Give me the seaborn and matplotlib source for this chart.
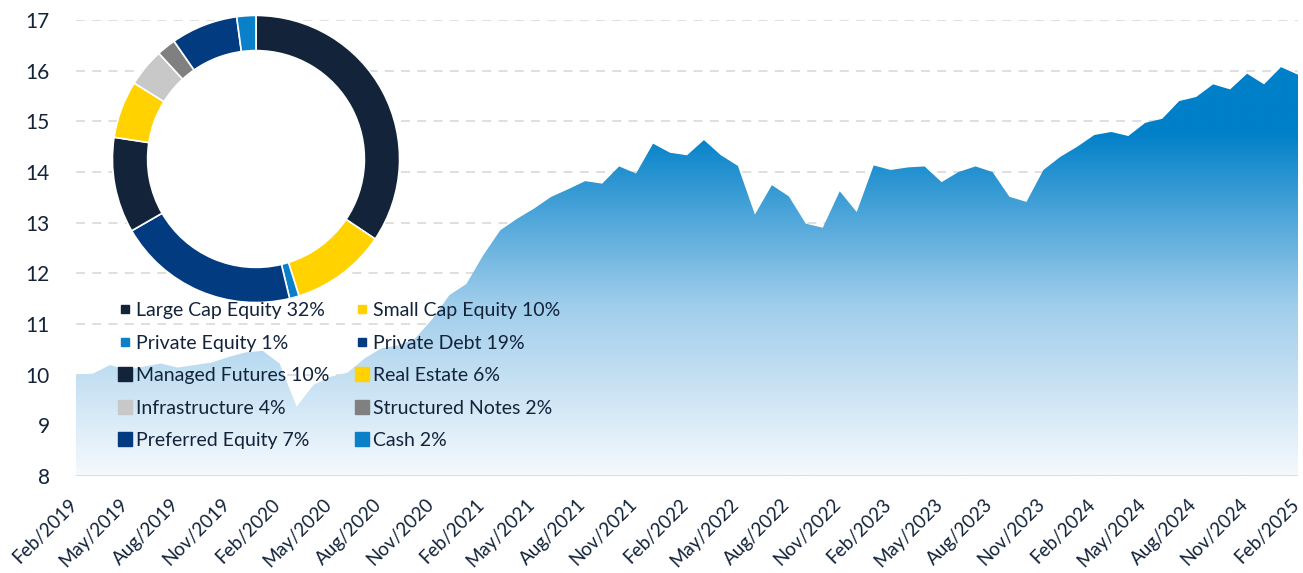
import numpy as np
import pandas as pd
import matplotlib
matplotlib.use("Agg")
import matplotlib.pyplot as plt
import matplotlib.transforms as mtransforms
from matplotlib.colors import LinearSegmentedColormap
from matplotlib.lines import Line2D
from matplotlib.patches import Circle
import seaborn as sns

# monthly values, Feb/2019 .. Feb/2025
months = pd.date_range("2019-02-01", "2025-02-01", freq="MS").strftime("%b/%Y").tolist()
values = [10.00, 10.02, 10.19, 10.10, 10.16, 10.22, 10.14, 10.19, 10.24, 10.35,
          10.44, 10.47, 10.22, 9.37, 9.80, 9.96, 10.04, 10.32, 10.52, 10.58,
          10.72, 11.10, 11.57, 11.79, 12.36, 12.85, 13.08, 13.28, 13.51, 13.66,
          13.82, 13.77, 14.11, 13.97, 14.56, 14.38, 14.33, 14.63, 14.33, 14.12,
          13.16, 13.74, 13.52, 12.98, 12.90, 13.62, 13.21, 14.13, 14.04, 14.09,
          14.11, 13.80, 14.00, 14.11, 14.00, 13.51, 13.41, 14.04, 14.30, 14.50,
          14.73, 14.79, 14.71, 14.97, 15.05, 15.40, 15.48, 15.73, 15.63, 15.94,
          15.73, 16.07, 15.92]

# allocation donut
alloc_labels = ["Large Cap Equity", "Small Cap Equity", "Private Equity", "Private Debt",
                "Managed Futures", "Real Estate", "Infrastructure", "Structured Notes",
                "Preferred Equity", "Cash"]
alloc_pcts = [32, 10, 1, 19, 10, 6, 4, 2, 7, 2]
alloc_colors = ["#12233a", "#ffd200", "#0a80c9", "#023b80", "#12233a",
                "#ffd200", "#c8c8c8", "#808080", "#023b80", "#0a80c9"]

TEXT = "#12233a"

sns.set_theme(style="white")
plt.rcParams["font.family"] = ["Lato", "DejaVu Sans"]

W, H = 1303, 573
fig = plt.figure(figsize=(W / 100, H / 100), dpi=100)
ax = fig.add_axes([76 / W, 97 / H, 1222 / W, 456 / H])

df = pd.DataFrame({"pos": np.arange(len(months)), "month": months, "value": values})

# area with vertical gradient (clipped to the filled region)
area = ax.fill_between(df["pos"], 8, df["value"], facecolor="none", edgecolor="none", zorder=2)
cmap = LinearSegmentedColormap.from_list("fade", ["#f5f9fd", "#9fcdeb", "#0080c8"])
grad = np.linspace(8, 17, 400).reshape(-1, 1)
im = ax.imshow(grad, extent=[0, len(months) - 1, 8, 17], origin="lower", aspect="auto",
               cmap=cmap, vmin=8, vmax=14.8, zorder=2, interpolation="bilinear")
im.set_clip_path(area.get_paths()[0], transform=ax.transData)

ax.set_xlim(0, len(months) - 1)
ax.set_ylim(8, 17)
ax.set_yticks(range(8, 18))
ax.yaxis.grid(True, linestyle=(0, (5, 4)), color="#dcdcdc", linewidth=1.3)
ax.set_axisbelow(True)
ax.axhline(8, color="#d9d9d9", linewidth=2, zorder=4)
for s in ax.spines.values():
    s.set_visible(False)

ticks = df["pos"][::3]
ax.set_xticks(ticks)
ax.set_xticklabels(df["month"][::3], rotation=45, ha="right", rotation_mode="anchor",
                   fontsize=13.5, color=TEXT)
ax.tick_params(axis="x", length=0, pad=14)
shift = mtransforms.ScaledTranslation(-8 / 100, 0, fig.dpi_scale_trans)
for lab in ax.get_xticklabels():
    lab.set_transform(lab.get_transform() + shift)
ax.tick_params(axis="y", length=0, pad=19, labelsize=15, labelcolor=TEXT)
ax.set_xlabel("")
ax.set_ylabel("")

# donut inset
R = 145
cx, cy = 256, 159
ax2 = fig.add_axes([(cx - R) / W, (H - cy - R) / H, 2 * R / W, 2 * R / H])
ax2.pie(alloc_pcts, colors=alloc_colors, startangle=90, counterclock=False,
        radius=1, wedgeprops=dict(width=0.245, edgecolor="white", linewidth=1.2))
ax2.add_patch(Circle((0, 0), 0.755, facecolor="white", edgecolor="none", zorder=0))
ax2.set_xlim(-1.01, 1.01)
ax2.set_ylim(-1.01, 1.01)
ax2.set_aspect("equal")
ax2.axis("off")

# legend, two columns filled row by row
order = [0, 2, 4, 6, 8, 1, 3, 5, 7, 9]
handles = []
for i in order:
    ms = 6 if i < 4 else 9.5
    handles.append(Line2D([], [], marker="s", linestyle="", markersize=ms,
                          color=alloc_colors[i], label=f"{alloc_labels[i]} {alloc_pcts[i]}%"))
fig.legend(handles=handles, ncol=2, loc="upper left", bbox_to_anchor=(119 / W, 1 - 302 / H),
           frameon=False, handlelength=0.6, handletextpad=0.25, columnspacing=1.4,
           labelspacing=0.8, borderaxespad=0, borderpad=0,
           prop={"size": 14}, labelcolor=TEXT)

fig.savefig("out.png", dpi=100)
